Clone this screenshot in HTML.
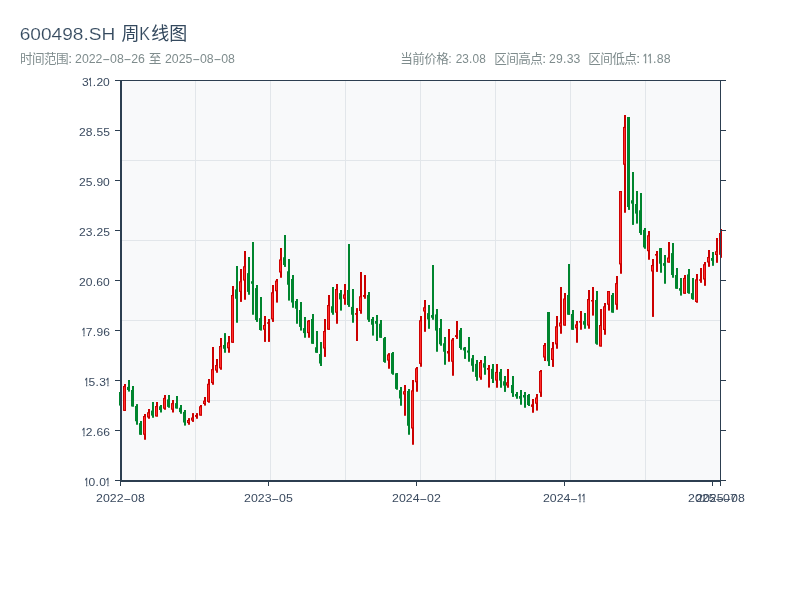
<!DOCTYPE html>
<html lang="zh"><head><meta charset="utf-8"><title>600498.SH 周K线图</title>
<style>
html,body{margin:0;padding:0;background:#fff;}
body{width:800px;height:600px;overflow:hidden;font-family:"Liberation Sans",sans-serif;}
svg{display:block;will-change:transform;}
svg text{font-family:"Liberation Sans",sans-serif;font-kerning:none;white-space:pre;}
svg text.cjk{font-family:"Liberation Sans","Noto Sans CJK SC",sans-serif;}
</style></head><body>
<svg width="800" height="600" viewBox="0 0 800 600">
<rect x="0" y="0" width="800" height="600" fill="#ffffff"/>
<rect x="121" y="81" width="600" height="400" fill="#f8f9fa"/>
<g fill="#e2e6ea">
<rect x="195" y="81" width="1" height="400"/>
<rect x="270" y="81" width="1" height="400"/>
<rect x="345" y="81" width="1" height="400"/>
<rect x="420" y="81" width="1" height="400"/>
<rect x="495" y="81" width="1" height="400"/>
<rect x="570" y="81" width="1" height="400"/>
<rect x="645" y="81" width="1" height="400"/>
<rect x="121" y="160" width="600" height="1"/>
<rect x="121" y="240" width="600" height="1"/>
<rect x="121" y="320" width="600" height="1"/>
<rect x="121" y="400" width="600" height="1"/>
</g>
<g id="candles">
<g fill="#00852e"><rect x="120.0" y="392.00" width="2" height="13.60"/><rect x="119.0" y="392.00" width="3" height="13.60"/></g>
<g fill="#cc0000"><rect x="124.0" y="384.00" width="2" height="26.90"/><rect x="123.0" y="386.00" width="3" height="24.90"/><rect fill="#ff2e2e" x="123.95" y="387.10" width="1.1" height="22.70"/></g>
<g fill="#00852e"><rect x="128.0" y="380.00" width="2" height="11.60"/><rect x="127.0" y="386.90" width="3" height="3.10"/></g>
<g fill="#00852e"><rect x="132.0" y="386.00" width="2" height="20.50"/><rect x="131.0" y="390.00" width="3" height="16.50"/></g>
<g fill="#00852e"><rect x="136.0" y="404.10" width="2" height="20.65"/><rect x="135.0" y="406.00" width="3" height="15.25"/></g>
<g fill="#00852e"><rect x="140.0" y="421.00" width="2" height="13.75"/><rect x="139.0" y="423.10" width="3" height="11.65"/></g>
<g fill="#cc0000"><rect x="144.0" y="414.00" width="2" height="25.75"/><rect x="143.0" y="416.00" width="3" height="18.75"/><rect fill="#ff2e2e" x="143.95" y="417.10" width="1.1" height="16.55"/></g>
<g fill="#cc0000"><rect x="148.0" y="409.00" width="2" height="9.75"/><rect x="147.0" y="412.25" width="3" height="5.25"/><rect fill="#ff2e2e" x="147.95" y="413.35" width="1.1" height="3.05"/></g>
<g fill="#00852e"><rect x="152.0" y="402.00" width="2" height="15.75"/><rect x="151.0" y="410.60" width="3" height="5.00"/></g>
<g fill="#cc0000"><rect x="156.0" y="402.00" width="2" height="14.50"/><rect x="155.0" y="406.00" width="3" height="10.50"/><rect fill="#ff2e2e" x="155.95" y="407.10" width="1.1" height="8.30"/></g>
<g fill="#00852e"><rect x="160.0" y="405.00" width="2" height="7.50"/><rect x="159.0" y="406.25" width="3" height="3.75"/></g>
<g fill="#cc0000"><rect x="164.0" y="395.00" width="2" height="14.75"/><rect x="163.0" y="397.90" width="3" height="10.85"/><rect fill="#ff2e2e" x="163.95" y="399.00" width="1.1" height="8.65"/></g>
<g fill="#00852e"><rect x="168.0" y="395.00" width="2" height="12.75"/><rect x="167.0" y="399.40" width="3" height="7.50"/></g>
<g fill="#cc0000"><rect x="172.0" y="400.00" width="2" height="12.50"/><rect x="171.0" y="403.10" width="3" height="6.65"/><rect fill="#ff2e2e" x="171.95" y="404.20" width="1.1" height="4.45"/></g>
<g fill="#00852e"><rect x="176.0" y="396.00" width="2" height="12.50"/><rect x="175.0" y="403.10" width="3" height="5.40"/></g>
<g fill="#00852e"><rect x="180.0" y="405.00" width="2" height="8.75"/><rect x="179.0" y="407.75" width="3" height="4.35"/></g>
<g fill="#00852e"><rect x="184.0" y="410.00" width="2" height="15.60"/><rect x="183.0" y="411.90" width="3" height="10.60"/></g>
<g fill="#cc0000"><rect x="188.0" y="418.10" width="2" height="6.65"/><rect x="187.0" y="420.00" width="3" height="3.10"/><rect fill="#ff2e2e" x="187.95" y="421.10" width="1.1" height="0.90"/></g>
<g fill="#cc0000"><rect x="192.0" y="413.10" width="2" height="8.80"/><rect x="191.0" y="417.50" width="3" height="3.10"/><rect fill="#ff2e2e" x="191.95" y="418.60" width="1.1" height="0.90"/></g>
<g fill="#cc0000"><rect x="196.0" y="413.10" width="2" height="5.65"/><rect x="195.0" y="415.00" width="3" height="1.90"/></g>
<g fill="#cc0000"><rect x="200.0" y="405.00" width="2" height="10.60"/><rect x="199.0" y="406.25" width="3" height="9.35"/><rect fill="#ff2e2e" x="199.95" y="407.35" width="1.1" height="7.15"/></g>
<g fill="#cc0000"><rect x="204.0" y="397.00" width="2" height="8.60"/><rect x="203.0" y="400.60" width="3" height="3.40"/><rect fill="#ff2e2e" x="203.95" y="401.70" width="1.1" height="1.20"/></g>
<g fill="#cc0000"><rect x="208.0" y="379.00" width="2" height="23.75"/><rect x="207.0" y="383.75" width="3" height="18.15"/><rect fill="#ff2e2e" x="207.95" y="384.85" width="1.1" height="15.95"/></g>
<g fill="#cc0000"><rect x="212.0" y="347.00" width="2" height="37.75"/><rect x="211.0" y="369.10" width="3" height="14.00"/><rect fill="#ff2e2e" x="211.95" y="370.20" width="1.1" height="11.80"/></g>
<g fill="#cc0000"><rect x="216.0" y="359.00" width="2" height="13.75"/><rect x="215.0" y="365.00" width="3" height="5.60"/><rect fill="#ff2e2e" x="215.95" y="366.10" width="1.1" height="3.40"/></g>
<g fill="#cc0000"><rect x="220.0" y="338.00" width="2" height="31.75"/><rect x="219.0" y="346.00" width="3" height="22.40"/><rect fill="#ff2e2e" x="219.95" y="347.10" width="1.1" height="20.20"/></g>
<g fill="#00852e"><rect x="224.0" y="333.10" width="2" height="19.65"/><rect x="223.0" y="345.00" width="3" height="3.75"/></g>
<g fill="#cc0000"><rect x="228.0" y="336.00" width="2" height="16.75"/><rect x="227.0" y="342.30" width="3" height="6.00"/><rect fill="#ff2e2e" x="227.95" y="343.40" width="1.1" height="3.80"/></g>
<g fill="#cc0000"><rect x="232.0" y="286.00" width="2" height="56.75"/><rect x="231.0" y="295.00" width="3" height="47.75"/><rect fill="#ff2e2e" x="231.95" y="296.10" width="1.1" height="45.55"/></g>
<g fill="#00852e"><rect x="236.0" y="266.00" width="2" height="56.75"/><rect x="235.0" y="289.40" width="3" height="9.35"/></g>
<g fill="#cc0000"><rect x="240.0" y="269.00" width="2" height="32.90"/><rect x="239.0" y="281.25" width="3" height="10.65"/><rect fill="#ff2e2e" x="239.95" y="282.35" width="1.1" height="8.45"/></g>
<g fill="#cc0000"><rect x="244.0" y="251.00" width="2" height="48.75"/><rect x="243.0" y="266.25" width="3" height="14.35"/><rect fill="#ff2e2e" x="243.95" y="267.35" width="1.1" height="12.15"/></g>
<g fill="#00852e"><rect x="248.0" y="257.00" width="2" height="37.75"/><rect x="247.0" y="273.10" width="3" height="18.80"/></g>
<g fill="#00852e"><rect x="252.0" y="242.00" width="2" height="72.75"/><rect x="251.0" y="281.25" width="3" height="2.50"/></g>
<g fill="#00852e"><rect x="256.0" y="285.00" width="2" height="36.90"/><rect x="255.0" y="288.10" width="3" height="31.90"/></g>
<g fill="#00852e"><rect x="260.0" y="297.00" width="2" height="33.60"/><rect x="259.0" y="318.10" width="3" height="11.90"/></g>
<g fill="#cc0000"><rect x="264.0" y="316.00" width="2" height="25.90"/><rect x="263.0" y="325.00" width="3" height="4.75"/><rect fill="#ff2e2e" x="263.95" y="326.10" width="1.1" height="2.55"/></g>
<g fill="#cc0000"><rect x="268.0" y="319.00" width="2" height="22.90"/><rect x="267.0" y="322.25" width="3" height="1.50"/></g>
<g fill="#cc0000"><rect x="272.0" y="285.00" width="2" height="36.90"/><rect x="271.0" y="292.25" width="3" height="27.15"/><rect fill="#ff2e2e" x="271.95" y="293.35" width="1.1" height="24.95"/></g>
<g fill="#cc0000"><rect x="276.0" y="279.00" width="2" height="23.60"/><rect x="275.0" y="280.60" width="3" height="10.65"/><rect fill="#ff2e2e" x="275.95" y="281.70" width="1.1" height="8.45"/></g>
<g fill="#cc0000"><rect x="280.0" y="248.00" width="2" height="29.75"/><rect x="279.0" y="259.40" width="3" height="13.10"/><rect fill="#ff2e2e" x="279.95" y="260.50" width="1.1" height="10.90"/></g>
<g fill="#00852e"><rect x="284.0" y="235.00" width="2" height="31.90"/><rect x="283.0" y="257.25" width="3" height="7.75"/></g>
<g fill="#00852e"><rect x="288.0" y="259.00" width="2" height="41.60"/><rect x="287.0" y="271.25" width="3" height="13.50"/></g>
<g fill="#00852e"><rect x="292.0" y="275.00" width="2" height="32.75"/><rect x="291.0" y="279.00" width="3" height="23.50"/></g>
<g fill="#00852e"><rect x="296.0" y="299.00" width="2" height="24.75"/><rect x="295.0" y="301.00" width="3" height="7.75"/></g>
<g fill="#00852e"><rect x="300.0" y="302.00" width="2" height="28.60"/><rect x="299.0" y="310.00" width="3" height="16.90"/></g>
<g fill="#00852e"><rect x="304.0" y="317.00" width="2" height="20.75"/><rect x="303.0" y="328.10" width="3" height="5.00"/></g>
<g fill="#cc0000"><rect x="308.0" y="320.00" width="2" height="17.75"/><rect x="307.0" y="320.60" width="3" height="12.50"/><rect fill="#ff2e2e" x="307.95" y="321.70" width="1.1" height="10.30"/></g>
<g fill="#00852e"><rect x="312.0" y="314.00" width="2" height="29.75"/><rect x="311.0" y="319.00" width="3" height="24.75"/></g>
<g fill="#00852e"><rect x="316.0" y="331.00" width="2" height="21.75"/><rect x="315.0" y="347.25" width="3" height="5.50"/></g>
<g fill="#00852e"><rect x="320.0" y="342.00" width="2" height="24.00"/><rect x="319.0" y="354.00" width="3" height="9.50"/></g>
<g fill="#cc0000"><rect x="324.0" y="319.00" width="2" height="37.90"/><rect x="323.0" y="331.00" width="3" height="17.50"/><rect fill="#ff2e2e" x="323.95" y="332.10" width="1.1" height="15.30"/></g>
<g fill="#cc0000"><rect x="328.0" y="295.00" width="2" height="34.75"/><rect x="327.0" y="305.00" width="3" height="24.75"/><rect fill="#ff2e2e" x="327.95" y="306.10" width="1.1" height="22.55"/></g>
<g fill="#00852e"><rect x="332.0" y="287.00" width="2" height="27.75"/><rect x="331.0" y="306.25" width="3" height="6.50"/></g>
<g fill="#cc0000"><rect x="336.0" y="284.00" width="2" height="39.75"/><rect x="335.0" y="289.00" width="3" height="23.75"/><rect fill="#ff2e2e" x="335.95" y="290.10" width="1.1" height="21.55"/></g>
<g fill="#00852e"><rect x="340.0" y="290.00" width="2" height="20.60"/><rect x="339.0" y="293.10" width="3" height="6.30"/></g>
<g fill="#cc0000"><rect x="344.0" y="284.00" width="2" height="20.75"/><rect x="343.0" y="294.40" width="3" height="4.35"/><rect fill="#ff2e2e" x="343.95" y="295.50" width="1.1" height="2.15"/></g>
<g fill="#00852e"><rect x="348.0" y="244.00" width="2" height="62.90"/><rect x="347.0" y="290.00" width="3" height="15.00"/></g>
<g fill="#00852e"><rect x="352.0" y="289.00" width="2" height="33.75"/><rect x="351.0" y="306.90" width="3" height="7.85"/></g>
<g fill="#cc0000"><rect x="356.0" y="308.10" width="2" height="32.90"/><rect x="355.0" y="313.10" width="3" height="1.65"/></g>
<g fill="#cc0000"><rect x="360.0" y="272.00" width="2" height="41.75"/><rect x="359.0" y="296.25" width="3" height="14.75"/><rect fill="#ff2e2e" x="359.95" y="297.35" width="1.1" height="12.55"/></g>
<g fill="#cc0000"><rect x="364.0" y="275.00" width="2" height="23.75"/><rect x="363.0" y="295.00" width="3" height="1.90"/></g>
<g fill="#00852e"><rect x="368.0" y="292.00" width="2" height="29.90"/><rect x="367.0" y="295.00" width="3" height="24.75"/></g>
<g fill="#00852e"><rect x="372.0" y="317.00" width="2" height="18.60"/><rect x="371.0" y="319.00" width="3" height="5.75"/></g>
<g fill="#00852e"><rect x="376.0" y="315.00" width="2" height="26.00"/><rect x="375.0" y="321.00" width="3" height="2.75"/></g>
<g fill="#00852e"><rect x="380.0" y="320.00" width="2" height="17.75"/><rect x="379.0" y="323.75" width="3" height="14.00"/></g>
<g fill="#00852e"><rect x="384.0" y="337.00" width="2" height="25.75"/><rect x="383.0" y="338.10" width="3" height="23.80"/></g>
<g fill="#cc0000"><rect x="388.0" y="353.10" width="2" height="15.65"/><rect x="387.0" y="354.40" width="3" height="6.20"/><rect fill="#ff2e2e" x="387.95" y="355.50" width="1.1" height="4.00"/></g>
<g fill="#00852e"><rect x="392.0" y="352.00" width="2" height="22.75"/><rect x="391.0" y="353.10" width="3" height="20.65"/></g>
<g fill="#00852e"><rect x="396.0" y="373.00" width="2" height="16.75"/><rect x="395.0" y="373.25" width="3" height="15.65"/></g>
<g fill="#00852e"><rect x="400.0" y="387.00" width="2" height="18.75"/><rect x="399.0" y="390.10" width="3" height="8.40"/></g>
<g fill="#cc0000"><rect x="404.0" y="385.00" width="2" height="30.75"/><rect x="403.0" y="391.20" width="3" height="3.30"/><rect fill="#ff2e2e" x="403.95" y="392.30" width="1.1" height="1.10"/></g>
<g fill="#00852e"><rect x="408.0" y="389.00" width="2" height="45.75"/><rect x="407.0" y="391.00" width="3" height="34.75"/></g>
<g fill="#cc0000"><rect x="412.0" y="380.00" width="2" height="64.75"/><rect x="411.0" y="390.30" width="3" height="38.20"/><rect fill="#ff2e2e" x="411.95" y="391.40" width="1.1" height="36.00"/></g>
<g fill="#cc0000"><rect x="416.0" y="367.00" width="2" height="24.75"/><rect x="415.0" y="368.25" width="3" height="14.00"/><rect fill="#ff2e2e" x="415.95" y="369.35" width="1.1" height="11.80"/></g>
<g fill="#cc0000"><rect x="420.0" y="316.00" width="2" height="50.75"/><rect x="419.0" y="320.25" width="3" height="43.65"/><rect fill="#ff2e2e" x="419.95" y="321.35" width="1.1" height="41.45"/></g>
<g fill="#cc0000"><rect x="424.0" y="300.00" width="2" height="31.80"/><rect x="423.0" y="307.25" width="3" height="4.25"/><rect fill="#ff2e2e" x="423.95" y="308.35" width="1.1" height="2.05"/></g>
<g fill="#00852e"><rect x="428.0" y="305.00" width="2" height="23.80"/><rect x="427.0" y="313.10" width="3" height="6.30"/></g>
<g fill="#00852e"><rect x="432.0" y="265.00" width="2" height="54.75"/><rect x="431.0" y="315.00" width="3" height="2.75"/></g>
<g fill="#00852e"><rect x="436.0" y="309.00" width="2" height="42.75"/><rect x="435.0" y="314.40" width="3" height="16.20"/></g>
<g fill="#00852e"><rect x="440.0" y="319.00" width="2" height="26.75"/><rect x="439.0" y="328.00" width="3" height="16.25"/></g>
<g fill="#00852e"><rect x="444.0" y="337.00" width="2" height="27.75"/><rect x="443.0" y="343.25" width="3" height="8.50"/></g>
<g fill="#cc0000"><rect x="448.0" y="329.00" width="2" height="32.75"/><rect x="447.0" y="351.00" width="3" height="2.50"/></g>
<g fill="#cc0000"><rect x="452.0" y="338.00" width="2" height="37.75"/><rect x="451.0" y="339.50" width="3" height="22.25"/><rect fill="#ff2e2e" x="451.95" y="340.60" width="1.1" height="20.05"/></g>
<g fill="#cc0000"><rect x="456.0" y="321.00" width="2" height="17.90"/><rect x="455.0" y="335.10" width="3" height="1.90"/></g>
<g fill="#00852e"><rect x="460.0" y="328.00" width="2" height="21.75"/><rect x="459.0" y="330.10" width="3" height="17.90"/></g>
<g fill="#00852e"><rect x="464.0" y="347.00" width="2" height="11.90"/><rect x="463.0" y="347.60" width="3" height="2.90"/></g>
<g fill="#00852e"><rect x="468.0" y="337.00" width="2" height="24.75"/><rect x="467.0" y="350.50" width="3" height="2.10"/></g>
<g fill="#00852e"><rect x="472.0" y="355.00" width="2" height="16.75"/><rect x="471.0" y="358.25" width="3" height="7.50"/></g>
<g fill="#00852e"><rect x="476.0" y="360.00" width="2" height="20.75"/><rect x="475.0" y="363.90" width="3" height="13.00"/></g>
<g fill="#cc0000"><rect x="480.0" y="360.00" width="2" height="19.75"/><rect x="479.0" y="362.00" width="3" height="15.60"/><rect fill="#ff2e2e" x="479.95" y="363.10" width="1.1" height="13.40"/></g>
<g fill="#00852e"><rect x="484.0" y="356.00" width="2" height="18.75"/><rect x="483.0" y="363.25" width="3" height="4.35"/></g>
<g fill="#cc0000"><rect x="488.0" y="365.00" width="2" height="22.60"/><rect x="487.0" y="368.00" width="3" height="1.75"/></g>
<g fill="#00852e"><rect x="492.0" y="364.00" width="2" height="19.00"/><rect x="491.0" y="368.90" width="3" height="10.00"/></g>
<g fill="#cc0000"><rect x="496.0" y="364.00" width="2" height="23.75"/><rect x="495.0" y="371.90" width="3" height="8.70"/><rect fill="#ff2e2e" x="495.95" y="373.00" width="1.1" height="6.50"/></g>
<g fill="#00852e"><rect x="500.0" y="369.00" width="2" height="18.75"/><rect x="499.0" y="371.90" width="3" height="8.70"/></g>
<g fill="#00852e"><rect x="504.0" y="376.00" width="2" height="15.90"/><rect x="503.0" y="381.25" width="3" height="4.35"/></g>
<g fill="#cc0000"><rect x="507.0" y="369.00" width="2" height="18.75"/><rect x="506.0" y="382.25" width="3" height="3.35"/><rect fill="#ff2e2e" x="506.95" y="383.35" width="1.1" height="1.15"/></g>
<g fill="#00852e"><rect x="512.0" y="376.00" width="2" height="20.90"/><rect x="511.0" y="385.00" width="3" height="8.10"/></g>
<g fill="#00852e"><rect x="516.0" y="392.00" width="2" height="6.75"/><rect x="515.0" y="394.00" width="3" height="2.50"/></g>
<g fill="#00852e"><rect x="520.0" y="390.00" width="2" height="14.75"/><rect x="519.0" y="396.00" width="3" height="2.75"/></g>
<g fill="#00852e"><rect x="524.0" y="392.00" width="2" height="15.75"/><rect x="523.0" y="395.00" width="3" height="2.50"/></g>
<g fill="#00852e"><rect x="528.0" y="394.00" width="2" height="12.00"/><rect x="527.0" y="395.00" width="3" height="10.00"/></g>
<g fill="#cc0000"><rect x="532.0" y="399.00" width="2" height="13.75"/><rect x="531.0" y="404.40" width="3" height="2.50"/></g>
<g fill="#cc0000"><rect x="536.0" y="394.00" width="2" height="16.60"/><rect x="535.0" y="397.50" width="3" height="6.25"/><rect fill="#ff2e2e" x="535.95" y="398.60" width="1.1" height="4.05"/></g>
<g fill="#cc0000"><rect x="540.0" y="370.00" width="2" height="26.90"/><rect x="539.0" y="371.00" width="3" height="21.75"/><rect fill="#ff2e2e" x="539.95" y="372.10" width="1.1" height="19.55"/></g>
<g fill="#cc0000"><rect x="544.0" y="343.00" width="2" height="18.00"/><rect x="543.0" y="345.00" width="3" height="12.50"/><rect fill="#ff2e2e" x="543.95" y="346.10" width="1.1" height="10.30"/></g>
<g fill="#00852e"><rect x="548.0" y="312.00" width="2" height="54.00"/><rect x="547.0" y="312.00" width="3" height="49.25"/></g>
<g fill="#cc0000"><rect x="552.0" y="342.00" width="2" height="24.90"/><rect x="551.0" y="348.10" width="3" height="11.90"/><rect fill="#ff2e2e" x="551.95" y="349.20" width="1.1" height="9.70"/></g>
<g fill="#cc0000"><rect x="556.0" y="316.00" width="2" height="32.75"/><rect x="555.0" y="326.25" width="3" height="18.15"/><rect fill="#ff2e2e" x="555.95" y="327.35" width="1.1" height="15.95"/></g>
<g fill="#cc0000"><rect x="560.0" y="287.00" width="2" height="46.75"/><rect x="559.0" y="322.50" width="3" height="4.00"/><rect fill="#ff2e2e" x="559.95" y="323.60" width="1.1" height="1.80"/></g>
<g fill="#cc0000"><rect x="564.0" y="293.00" width="2" height="32.60"/><rect x="563.0" y="298.50" width="3" height="27.10"/><rect fill="#ff2e2e" x="563.95" y="299.60" width="1.1" height="24.90"/></g>
<g fill="#00852e"><rect x="568.0" y="264.00" width="2" height="50.75"/><rect x="567.0" y="295.00" width="3" height="19.75"/></g>
<g fill="#00852e"><rect x="572.0" y="310.00" width="2" height="19.75"/><rect x="571.0" y="314.00" width="3" height="15.75"/></g>
<g fill="#cc0000"><rect x="576.0" y="321.00" width="2" height="21.75"/><rect x="575.0" y="324.40" width="3" height="3.90"/><rect fill="#ff2e2e" x="575.95" y="325.50" width="1.1" height="1.70"/></g>
<g fill="#cc0000"><rect x="580.0" y="311.00" width="2" height="18.75"/><rect x="579.0" y="321.10" width="3" height="1.50"/></g>
<g fill="#00852e"><rect x="584.0" y="313.00" width="2" height="15.75"/><rect x="583.0" y="321.10" width="3" height="3.65"/></g>
<g fill="#cc0000"><rect x="588.0" y="290.00" width="2" height="38.75"/><rect x="587.0" y="299.00" width="3" height="26.60"/><rect fill="#ff2e2e" x="587.95" y="300.10" width="1.1" height="24.40"/></g>
<g fill="#cc0000"><rect x="592.0" y="287.00" width="2" height="28.60"/><rect x="591.0" y="300.00" width="3" height="1.50"/></g>
<g fill="#00852e"><rect x="596.0" y="291.00" width="2" height="53.75"/><rect x="595.0" y="300.00" width="3" height="43.75"/></g>
<g fill="#cc0000"><rect x="600.0" y="309.00" width="2" height="37.50"/><rect x="599.0" y="325.00" width="3" height="21.50"/><rect fill="#ff2e2e" x="599.95" y="326.10" width="1.1" height="19.30"/></g>
<g fill="#cc0000"><rect x="604.0" y="303.00" width="2" height="31.75"/><rect x="603.0" y="306.25" width="3" height="23.75"/><rect fill="#ff2e2e" x="603.95" y="307.35" width="1.1" height="21.55"/></g>
<g fill="#cc0000"><rect x="608.0" y="291.00" width="2" height="19.60"/><rect x="607.0" y="291.00" width="3" height="13.75"/><rect fill="#ff2e2e" x="607.95" y="292.10" width="1.1" height="11.55"/></g>
<g fill="#00852e"><rect x="612.0" y="293.00" width="2" height="19.60"/><rect x="611.0" y="295.00" width="3" height="17.60"/></g>
<g fill="#cc0000"><rect x="616.0" y="276.00" width="2" height="33.75"/><rect x="615.0" y="283.10" width="3" height="21.65"/><rect fill="#ff2e2e" x="615.95" y="284.20" width="1.1" height="19.45"/></g>
<g fill="#cc0000"><rect x="620.0" y="191.00" width="2" height="82.75"/><rect x="619.0" y="191.00" width="3" height="73.40"/><rect fill="#ff2e2e" x="619.95" y="192.10" width="1.1" height="71.20"/></g>
<g fill="#cc0000"><rect x="624.0" y="115.00" width="2" height="97.75"/><rect x="623.0" y="126.90" width="3" height="37.85"/><rect fill="#ff2e2e" x="623.95" y="128.00" width="1.1" height="35.65"/></g>
<g fill="#00852e"><rect x="628.0" y="117.00" width="2" height="92.90"/><rect x="627.0" y="117.00" width="3" height="90.00"/></g>
<g fill="#00852e"><rect x="632.0" y="172.00" width="2" height="52.90"/><rect x="631.0" y="200.25" width="3" height="3.35"/></g>
<g fill="#00852e"><rect x="636.0" y="191.00" width="2" height="32.60"/><rect x="635.0" y="204.00" width="3" height="9.60"/></g>
<g fill="#00852e"><rect x="640.0" y="193.00" width="2" height="41.90"/><rect x="639.0" y="210.25" width="3" height="22.75"/></g>
<g fill="#00852e"><rect x="644.0" y="228.00" width="2" height="20.75"/><rect x="643.0" y="229.90" width="3" height="17.50"/></g>
<g fill="#cc0000"><rect x="648.0" y="231.00" width="2" height="28.75"/><rect x="647.0" y="235.25" width="3" height="15.95"/><rect fill="#ff2e2e" x="647.95" y="236.35" width="1.1" height="13.75"/></g>
<g fill="#cc0000"><rect x="652.0" y="259.00" width="2" height="57.90"/><rect x="651.0" y="265.00" width="3" height="6.50"/><rect fill="#ff2e2e" x="651.95" y="266.10" width="1.1" height="4.30"/></g>
<g fill="#cc0000"><rect x="656.0" y="251.00" width="2" height="20.90"/><rect x="655.0" y="254.00" width="3" height="1.60"/></g>
<g fill="#00852e"><rect x="660.0" y="248.00" width="2" height="24.75"/><rect x="659.0" y="248.10" width="3" height="15.65"/></g>
<g fill="#00852e"><rect x="664.0" y="255.00" width="2" height="28.75"/><rect x="663.0" y="263.10" width="3" height="2.70"/></g>
<g fill="#cc0000"><rect x="668.0" y="242.00" width="2" height="20.60"/><rect x="667.0" y="257.50" width="3" height="5.10"/><rect fill="#ff2e2e" x="667.95" y="258.60" width="1.1" height="2.90"/></g>
<g fill="#00852e"><rect x="672.0" y="243.00" width="2" height="34.75"/><rect x="671.0" y="253.10" width="3" height="21.90"/></g>
<g fill="#00852e"><rect x="676.0" y="268.00" width="2" height="20.75"/><rect x="675.0" y="275.00" width="3" height="13.75"/></g>
<g fill="#00852e"><rect x="680.0" y="278.00" width="2" height="17.60"/><rect x="679.0" y="288.10" width="3" height="2.60"/></g>
<g fill="#cc0000"><rect x="684.0" y="275.00" width="2" height="18.75"/><rect x="683.0" y="277.90" width="3" height="15.85"/><rect fill="#ff2e2e" x="683.95" y="279.00" width="1.1" height="13.65"/></g>
<g fill="#00852e"><rect x="688.0" y="269.00" width="2" height="24.75"/><rect x="687.0" y="274.40" width="3" height="18.70"/></g>
<g fill="#00852e"><rect x="692.0" y="278.00" width="2" height="21.75"/><rect x="691.0" y="293.10" width="3" height="5.80"/></g>
<g fill="#cc0000"><rect x="696.0" y="274.00" width="2" height="28.75"/><rect x="695.0" y="279.30" width="3" height="22.70"/><rect fill="#ff2e2e" x="695.95" y="280.40" width="1.1" height="20.50"/></g>
<g fill="#cc0000"><rect x="700.0" y="268.00" width="2" height="14.80"/><rect x="699.0" y="279.30" width="3" height="1.50"/></g>
<g fill="#cc0000"><rect x="704.0" y="262.00" width="2" height="23.80"/><rect x="703.0" y="264.20" width="3" height="15.30"/><rect fill="#ff2e2e" x="703.95" y="265.30" width="1.1" height="13.10"/></g>
<g fill="#cc0000"><rect x="708.0" y="250.00" width="2" height="16.80"/><rect x="707.0" y="257.00" width="3" height="5.50"/><rect fill="#ff2e2e" x="707.95" y="258.10" width="1.1" height="3.30"/></g>
<g fill="#00852e"><rect x="712.0" y="252.00" width="2" height="13.80"/><rect x="711.0" y="258.00" width="3" height="2.80"/></g>
<g fill="#cc0000"><rect x="716.0" y="238.00" width="2" height="24.80"/><rect x="715.0" y="251.20" width="3" height="3.80"/><rect fill="#ff2e2e" x="715.95" y="252.30" width="1.1" height="1.60"/></g>
<g fill="#cc0000"><rect x="720.0" y="229.00" width="2" height="28.80"/><rect x="719.0" y="233.00" width="3" height="21.80"/><rect fill="#ff2e2e" x="719.95" y="234.10" width="1.1" height="19.60"/></g>
</g>
<g fill="#2c3e50">
<rect x="120" y="80" width="2" height="402"/>
<rect x="120" y="480" width="601" height="2"/>
<rect x="115" y="80" width="611" height="1"/>
<rect x="720" y="80" width="1" height="402"/>
<rect x="115" y="130" width="5" height="1"/>
<rect x="721" y="130" width="5" height="1"/>
<rect x="115" y="180" width="5" height="1"/>
<rect x="721" y="180" width="5" height="1"/>
<rect x="115" y="230" width="5" height="1"/>
<rect x="721" y="230" width="5" height="1"/>
<rect x="115" y="280" width="5" height="1"/>
<rect x="721" y="280" width="5" height="1"/>
<rect x="115" y="330" width="5" height="1"/>
<rect x="721" y="330" width="5" height="1"/>
<rect x="115" y="380" width="5" height="1"/>
<rect x="721" y="380" width="5" height="1"/>
<rect x="115" y="430" width="5" height="1"/>
<rect x="721" y="430" width="5" height="1"/>
<rect x="115" y="480" width="5" height="1"/>
<rect x="721" y="480" width="5" height="1"/>
<rect x="120" y="482" width="1" height="4"/>
<rect x="268" y="482" width="1" height="4"/>
<rect x="416" y="482" width="1" height="4"/>
<rect x="564" y="482" width="1" height="4"/>
<rect x="712" y="482" width="1" height="4"/>
<rect x="720" y="482" width="1" height="4"/>
</g>
<g id="ylabels">
<text transform="translate(0,85.90) scale(1.0693,1)" font-size="11.3" fill="#3a4a5f"><tspan x="76.59">3</tspan><tspan x="82.82" textLength="3.52" lengthAdjust="spacingAndGlyphs" stroke="#3a4a5f" stroke-width="0.4">1</tspan><tspan x="86.74 90.14 96.42">.20</tspan></text>
<g fill="#ffffff"><rect x="88.53" y="84.25" width="1.45" height="2.75"/><rect x="91.14" y="84.25" width="1.37" height="2.75"/></g>
<text transform="translate(0,135.90) scale(1.0693,1)" font-size="11.3" fill="#3a4a5f"><tspan x="73.94 80.23 86.77 90.17 96.45">28.55</tspan></text>
<text transform="translate(0,185.90) scale(1.0693,1)" font-size="11.3" fill="#3a4a5f"><tspan x="73.92 80.22 86.74 90.14 96.42">25.90</tspan></text>
<text transform="translate(0,235.90) scale(1.0693,1)" font-size="11.3" fill="#3a4a5f"><tspan x="73.94 80.26 86.77 90.16 96.45">23.25</tspan></text>
<text transform="translate(0,285.90) scale(1.0693,1)" font-size="11.3" fill="#3a4a5f"><tspan x="73.92 80.21 86.74 90.10 96.42">20.60</tspan></text>
<text transform="translate(0,335.90) scale(1.0693,1)" font-size="11.3" fill="#3a4a5f"><tspan x="76.63" textLength="3.52" lengthAdjust="spacingAndGlyphs" stroke="#3a4a5f" stroke-width="0.4">1</tspan><tspan x="80.29 86.84 90.23 96.48">7.96</tspan></text>
<g fill="#ffffff"><rect x="81.91" y="334.25" width="1.45" height="2.75"/><rect x="84.52" y="334.25" width="1.37" height="2.75"/></g>
<text transform="translate(0,385.90) scale(1.0693,1)" font-size="11.3" fill="#3a4a5f"><tspan x="79.19" textLength="3.52" lengthAdjust="spacingAndGlyphs" stroke="#3a4a5f" stroke-width="0.4">1</tspan><tspan x="82.87 89.40 92.83">5.3</tspan><tspan x="99.05" textLength="3.52" lengthAdjust="spacingAndGlyphs" stroke="#3a4a5f" stroke-width="0.4">1</tspan></text>
<g fill="#ffffff"><rect x="84.65" y="384.25" width="1.45" height="2.75"/><rect x="87.26" y="384.25" width="1.37" height="2.75"/><rect x="105.89" y="384.25" width="1.45" height="2.75"/><rect x="108.50" y="384.25" width="1.37" height="2.75"/></g>
<text transform="translate(0,435.90) scale(1.0693,1)" font-size="11.3" fill="#3a4a5f"><tspan x="76.63" textLength="3.52" lengthAdjust="spacingAndGlyphs" stroke="#3a4a5f" stroke-width="0.4">1</tspan><tspan x="80.30 86.84 90.19 96.48">2.66</tspan></text>
<g fill="#ffffff"><rect x="81.91" y="434.25" width="1.45" height="2.75"/><rect x="84.52" y="434.25" width="1.37" height="2.75"/></g>
<text transform="translate(0,485.90) scale(1.0693,1)" font-size="11.3" fill="#3a4a5f"><tspan x="79.19" textLength="3.52" lengthAdjust="spacingAndGlyphs" stroke="#3a4a5f" stroke-width="0.4">1</tspan><tspan x="82.86 89.40 92.79">0.0</tspan><tspan x="99.05" textLength="3.52" lengthAdjust="spacingAndGlyphs" stroke="#3a4a5f" stroke-width="0.4">1</tspan></text>
<g fill="#ffffff"><rect x="84.65" y="484.25" width="1.45" height="2.75"/><rect x="87.26" y="484.25" width="1.37" height="2.75"/><rect x="105.89" y="484.25" width="1.45" height="2.75"/><rect x="108.50" y="484.25" width="1.37" height="2.75"/></g>
</g>
<g id="xlabels">
<text transform="translate(0,501.90) scale(1.0920,1)" font-size="11.3" fill="#3a4a5f"><tspan x="88.00 94.28 100.56 106.85">2022</tspan><tspan x="112.90" textLength="7.37" lengthAdjust="spacingAndGlyphs">-</tspan><tspan x="120.05 126.33">08</tspan></text>
<text transform="translate(0,501.90) scale(1.0920,1)" font-size="11.3" fill="#3a4a5f"><tspan x="223.51 229.79 236.08 242.39">2023</tspan><tspan x="248.42" textLength="7.37" lengthAdjust="spacingAndGlyphs">-</tspan><tspan x="255.56 261.85">05</tspan></text>
<text transform="translate(0,501.90) scale(1.0920,1)" font-size="11.3" fill="#3a4a5f"><tspan x="359.09 365.37 371.66 377.98">2024</tspan><tspan x="383.99" textLength="7.37" lengthAdjust="spacingAndGlyphs">-</tspan><tspan x="391.14 397.42">02</tspan></text>
<text transform="translate(0,501.90) scale(1.0920,1)" font-size="11.3" fill="#3a4a5f"><tspan x="497.20 503.48 509.77 516.09">2024</tspan><tspan x="522.11" textLength="7.37" lengthAdjust="spacingAndGlyphs">-</tspan><tspan x="529.22" textLength="3.52" lengthAdjust="spacingAndGlyphs" stroke="#3a4a5f" stroke-width="0.4">1</tspan><tspan x="532.87" textLength="3.52" lengthAdjust="spacingAndGlyphs" stroke="#3a4a5f" stroke-width="0.4">1</tspan></text>
<g fill="#ffffff"><rect x="577.91" y="500.25" width="1.48" height="2.75"/><rect x="580.56" y="500.25" width="1.40" height="2.75"/><rect x="581.89" y="500.25" width="1.48" height="2.75"/><rect x="584.54" y="500.25" width="1.40" height="2.75"/></g>
<text transform="translate(0,501.90) scale(1.0920,1)" font-size="11.3" fill="#3a4a5f"><tspan x="630.14 636.43 642.71 649.01">2025</tspan><tspan x="655.05" textLength="7.37" lengthAdjust="spacingAndGlyphs">-</tspan><tspan x="662.19 668.47">07</tspan></text>
<text transform="translate(0,501.90) scale(1.0920,1)" font-size="11.3" fill="#3a4a5f"><tspan x="637.43 643.71 649.99 656.29">2025</tspan><tspan x="662.33" textLength="7.37" lengthAdjust="spacingAndGlyphs">-</tspan><tspan x="669.48 675.76">08</tspan></text>
</g>
<text transform="translate(19.63,39.70) scale(1.1248,1)" font-size="17.0" fill="#34495e" stroke="#ffffff" stroke-width="0.15">600498.SH</text>
<text class="cjk" x="121.60" y="40.20" font-size="18" fill="#34495e">周</text>
<text transform="translate(139.18,39.60) scale(0.8621,1)" font-size="18.6" fill="#34495e" stroke="#ffffff" stroke-width="0.15">K</text>
<text class="cjk" x="151.20 169.20" y="40.20" font-size="18" fill="#34495e">线图</text>
<text class="cjk" x="20.10 32.10 44.10 56.10" y="63.20" font-size="12.6" fill="#7f8c8d">时间范围</text>
<text transform="translate(67.96,63.00) scale(1.3239,1)" font-size="11.9" fill="#7f8c8d">:</text>
<text transform="translate(0,63.00) scale(1.0355,1)" font-size="11.9" fill="#7f8c8d"><tspan x="72.50 79.12 85.74 92.36">2022</tspan><tspan x="98.74" textLength="7.76" lengthAdjust="spacingAndGlyphs">-</tspan><tspan x="106.26 112.88">08</tspan><tspan x="119.25" textLength="7.76" lengthAdjust="spacingAndGlyphs">-</tspan><tspan x="126.77 133.35">26</tspan></text>
<text class="cjk" x="148.80" y="63.20" font-size="12.6" fill="#7f8c8d">至</text>
<text transform="translate(0,63.00) scale(1.0363,1)" font-size="11.9" fill="#7f8c8d"><tspan x="159.20 165.82 172.44 179.07">2025</tspan><tspan x="185.43" textLength="7.76" lengthAdjust="spacingAndGlyphs">-</tspan><tspan x="192.95 199.57">08</tspan><tspan x="205.95" textLength="7.76" lengthAdjust="spacingAndGlyphs">-</tspan><tspan x="213.47 220.09">08</tspan></text>
<text class="cjk" x="400.20 412.20 424.20 436.20" y="63.20" font-size="12.6" fill="#7f8c8d">当前价格</text>
<text transform="translate(448.25,63.00) scale(1.0591,1)" font-size="11.9" fill="#7f8c8d">:</text>
<text transform="translate(0,63.00) scale(0.9933,1)" font-size="11.9" fill="#7f8c8d"><tspan x="458.73 465.38 472.23 475.81 482.42">23.08</tspan></text>
<text class="cjk" x="494.20 506.20 518.20 530.20" y="63.20" font-size="12.6" fill="#7f8c8d">区间高点</text>
<text transform="translate(542.06,63.00) scale(1.3239,1)" font-size="11.9" fill="#7f8c8d">:</text>
<text transform="translate(0,63.00) scale(1.0265,1)" font-size="11.9" fill="#7f8c8d"><tspan x="534.94 541.57 548.45 552.05 558.67">29.33</tspan></text>
<text class="cjk" x="588.20 600.20 612.20 624.20" y="63.20" font-size="12.6" fill="#7f8c8d">区间低点</text>
<text transform="translate(636.06,63.00) scale(1.3239,1)" font-size="11.9" fill="#7f8c8d">:</text>
<text transform="translate(0,63.00) scale(1.0372,1)" font-size="11.9" fill="#7f8c8d"><tspan x="619.87" textLength="4.77" lengthAdjust="spacingAndGlyphs" stroke="#7f8c8d" stroke-width="0.4">1</tspan><tspan x="624.56" textLength="4.77" lengthAdjust="spacingAndGlyphs" stroke="#7f8c8d" stroke-width="0.4">1</tspan><tspan x="629.68 633.25 639.87">.88</tspan></text>
<g fill="#ffffff"><rect x="642.98" y="61.31" width="1.90" height="2.79"/><rect x="646.22" y="61.31" width="1.80" height="2.79"/><rect x="647.85" y="61.31" width="1.90" height="2.79"/><rect x="651.10" y="61.31" width="1.80" height="2.79"/></g>
</svg>
</body></html>
